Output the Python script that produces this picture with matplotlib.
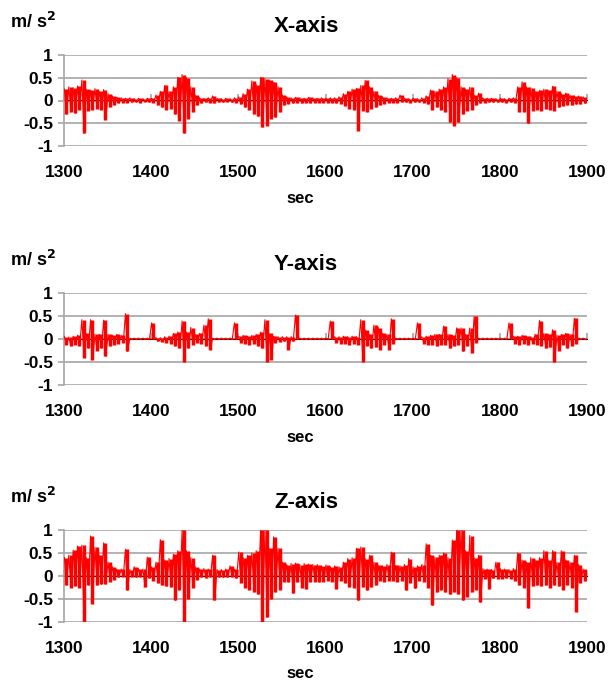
import numpy as np
import matplotlib
matplotlib.use('Agg')
import matplotlib.pyplot as plt
from matplotlib import font_manager
from matplotlib.ticker import NullFormatter

# 5 second bins from 1300 to 1900 sec, upper and lower excursion read per bin
START = 1300
BIN = 5

x_hi = [0.25, 0.3, 0.28, 0.32, 0.45, 0.25, 0.22, 0.26, 0.2, 0.24, 0.15, 0.1,
        0.07, 0.06, 0.05, 0.06, 0.04, 0.05, 0.04, 0.05, 0.05, 0.12, 0.2, 0.33,
        0.2, 0.3, 0.51, 0.57, 0.5, 0.3, 0.12, 0.06, 0.05, 0.06, 0.1, 0.05,
        0.04, 0.05, 0.04, 0.06, 0.08, 0.15, 0.25, 0.43, 0.35, 0.51, 0.48, 0.45,
        0.4, 0.3, 0.12, 0.08, 0.06, 0.07, 0.06, 0.05, 0.07, 0.06, 0.05, 0.06,
        0.05, 0.06, 0.06, 0.08, 0.15, 0.2, 0.25, 0.27, 0.33, 0.44, 0.3, 0.2,
        0.12, 0.08, 0.06, 0.05, 0.06, 0.12, 0.05, 0.04, 0.05, 0.04, 0.06, 0.1,
        0.23, 0.2, 0.25, 0.3, 0.48, 0.57, 0.5, 0.3, 0.25, 0.29, 0.12, 0.16,
        0.06, 0.05, 0.05, 0.04, 0.05, 0.04, 0.05, 0.06, 0.3, 0.41, 0.3, 0.28,
        0.2, 0.22, 0.25, 0.22, 0.31, 0.2, 0.15, 0.16, 0.12, 0.1, 0.1, 0.08]
x_lo = [-0.3, -0.25, -0.28, -0.2, -0.72, -0.22, -0.2, -0.18, -0.2, -0.42, -0.14, -0.1,
        -0.06, -0.05, -0.05, -0.04, -0.04, -0.05, -0.03, -0.04, -0.05, -0.1, -0.15, -0.2,
        -0.18, -0.3, -0.44, -0.72, -0.4, -0.25, -0.1, -0.06, -0.04, -0.05, -0.06, -0.04,
        -0.04, -0.03, -0.04, -0.05, -0.08, -0.15, -0.2, -0.3, -0.35, -0.59, -0.55, -0.4,
        -0.37, -0.25, -0.1, -0.07, -0.06, -0.05, -0.06, -0.05, -0.06, -0.05, -0.05, -0.05,
        -0.05, -0.05, -0.06, -0.07, -0.12, -0.18, -0.2, -0.66, -0.22, -0.25, -0.18, -0.15,
        -0.1, -0.07, -0.05, -0.05, -0.05, -0.04, -0.04, -0.05, -0.04, -0.04, -0.05, -0.08,
        -0.2, -0.15, -0.2, -0.25, -0.48, -0.55, -0.48, -0.3, -0.22, -0.2, -0.1, -0.06,
        -0.05, -0.04, -0.04, -0.04, -0.04, -0.05, -0.04, -0.05, -0.25, -0.25, -0.5, -0.22,
        -0.2, -0.22, -0.18, -0.2, -0.22, -0.15, -0.12, -0.1, -0.1, -0.08, -0.08, -0.06]

y_hi = [0.05, 0.04, 0.06, 0.08, 0.42, 0.12, 0.42, 0.1, 0.1, 0.41, 0.1, 0.08,
        0.1, 0.08, 0.55, 0.02, 0.02, 0.02, 0.02, 0.02, 0.35, 0.03, 0.03, 0.05,
        0.06, 0.12, 0.15, 0.39, 0.15, 0.25, 0.1, 0.12, 0.3, 0.44, 0.02, 0.02,
        0.02, 0.02, 0.02, 0.35, 0.06, 0.08, 0.06, 0.08, 0.1, 0.15, 0.42, 0.12,
        0.06, 0.05, 0.05, 0.05, 0.05, 0.52, 0.02, 0.02, 0.02, 0.02, 0.02, 0.02,
        0.02, 0.39, 0.05, 0.05, 0.06, 0.05, 0.06, 0.05, 0.42, 0.2, 0.1, 0.3,
        0.25, 0.12, 0.1, 0.44, 0.02, 0.02, 0.02, 0.02, 0.02, 0.35, 0.05, 0.06,
        0.08, 0.1, 0.1, 0.28, 0.1, 0.08, 0.24, 0.24, 0.1, 0.24, 0.49, 0.02,
        0.02, 0.02, 0.02, 0.02, 0.02, 0.02, 0.35, 0.06, 0.06, 0.08, 0.06, 0.05,
        0.1, 0.4, 0.12, 0.1, 0.2, 0.08, 0.1, 0.12, 0.1, 0.45, 0.02, 0.02]
y_lo = [-0.12, -0.15, -0.12, -0.15, -0.41, -0.2, -0.45, -0.25, -0.2, -0.38, -0.15, -0.12,
        -0.1, -0.08, -0.27, -0.01, -0.01, -0.01, -0.01, -0.01, -0.01, -0.05, -0.06, -0.08,
        -0.1, -0.15, -0.2, -0.5, -0.2, -0.12, -0.08, -0.1, -0.15, -0.23, -0.01, -0.01,
        -0.01, -0.01, -0.01, -0.01, -0.08, -0.1, -0.12, -0.1, -0.15, -0.2, -0.5, -0.45,
        -0.08, -0.06, -0.05, -0.23, -0.05, -0.01, -0.01, -0.01, -0.01, -0.01, -0.01, -0.01,
        -0.01, -0.01, -0.08, -0.1, -0.1, -0.12, -0.1, -0.12, -0.49, -0.15, -0.2, -0.18,
        -0.23, -0.12, -0.23, -0.1, -0.01, -0.01, -0.01, -0.01, -0.01, -0.01, -0.1, -0.12,
        -0.12, -0.15, -0.12, -0.12, -0.2, -0.15, -0.12, -0.27, -0.15, -0.3, -0.08, -0.01,
        -0.01, -0.01, -0.01, -0.01, -0.01, -0.01, -0.01, -0.1, -0.12, -0.1, -0.12, -0.1,
        -0.12, -0.15, -0.2, -0.18, -0.5, -0.25, -0.12, -0.2, -0.15, -0.1, -0.01, -0.01]

z_hi = [0.4, 0.45, 0.56, 0.65, 0.67, 0.4, 0.87, 0.62, 0.45, 0.72, 0.3, 0.2,
        0.15, 0.15, 0.58, 0.14, 0.2, 0.16, 0.15, 0.41, 0.2, 0.3, 0.79, 0.35,
        0.38, 0.47, 0.55, 1.0, 0.55, 0.4, 0.2, 0.15, 0.16, 0.15, 0.45, 0.14,
        0.14, 0.15, 0.22, 0.15, 0.52, 0.4, 0.45, 0.5, 0.55, 1.0, 1.0, 0.6,
        0.85, 0.6, 0.3, 0.25, 0.27, 0.28, 0.25, 0.27, 0.26, 0.25, 0.25, 0.22,
        0.24, 0.2, 0.22, 0.2, 0.3, 0.38, 0.4, 0.6, 0.63, 0.38, 0.45, 0.3,
        0.23, 0.22, 0.25, 0.52, 0.23, 0.22, 0.25, 0.38, 0.2, 0.22, 0.25, 0.7,
        0.45, 0.41, 0.45, 0.5, 0.4, 0.78, 1.0, 1.0, 0.55, 0.88, 0.4, 0.45,
        0.16, 0.15, 0.14, 0.3, 0.16, 0.15, 0.14, 0.16, 0.5, 0.35, 0.3, 0.4,
        0.35, 0.4, 0.55, 0.35, 0.55, 0.3, 0.55, 0.35, 0.3, 0.45, 0.25, 0.15]
z_lo = [-0.2, -0.25, -0.22, -0.25, -1.0, -0.2, -0.6, -0.2, -0.18, -0.18, -0.12, -0.08,
        -0.03, -0.02, -0.31, -0.02, -0.03, -0.02, -0.24, -0.05, -0.1, -0.15, -0.2, -0.22,
        -0.24, -0.53, -0.3, -1.0, -0.5, -0.25, -0.08, -0.03, -0.04, -0.02, -0.53, -0.03,
        -0.03, -0.03, -0.02, -0.05, -0.15, -0.25, -0.3, -0.35, -0.4, -1.0, -0.9, -0.5,
        -0.35, -0.3, -0.12, -0.13, -0.38, -0.13, -0.25, -0.28, -0.13, -0.12, -0.13, -0.12,
        -0.1, -0.12, -0.28, -0.1, -0.15, -0.24, -0.25, -0.53, -0.24, -0.31, -0.24, -0.2,
        -0.1, -0.12, -0.1, -0.1, -0.12, -0.1, -0.31, -0.15, -0.27, -0.1, -0.12, -0.25,
        -0.64, -0.35, -0.3, -0.35, -0.4, -0.35, -0.4, -0.53, -0.45, -0.35, -0.3, -0.57,
        -0.06, -0.28, -0.05, -0.06, -0.06, -0.05, -0.06, -0.1, -0.2, -0.25, -0.7, -0.22,
        -0.2, -0.22, -0.2, -0.25, -0.2, -0.22, -0.3, -0.2, -0.25, -0.78, -0.15, -0.1]

titles = ["X-axis", "Y-axis", "Z-axis"]
x_ticks = [1300, 1400, 1500, 1600, 1700, 1800, 1900]
y_ticks = [1, 0.5, 0, -0.5, -1]
y_ticklabels = ["1", "0.5", "0", "-0.5", "-1"]

try:
    font_manager.findfont('Liberation Sans Narrow', fallback_to_default=False)
    FONT = 'Liberation Sans Narrow'
except ValueError:
    FONT = 'Liberation Sans'
plt.rcParams['font.family'] = FONT
plt.rcParams['font.weight'] = 'bold'

GRID = '#a6a6a6'
RED = '#ff0000'
W, H = 611, 688


def zigzag(hi, lo):
    t0 = START + BIN * np.arange(len(hi))
    t = np.empty(2 * len(hi))
    v = np.empty(2 * len(hi))
    t[0::2] = t0 + 0.5
    t[1::2] = t0 + 3.0
    v[0::2] = hi
    v[1::2] = lo
    return t, v


fig = plt.figure(figsize=(W / 100, H / 100), dpi=100)

# axes box in pixels: y=1 line and y=-1 line
boxes = [(55, 146), (293, 385), (530, 622)]
series = [(x_hi, x_lo), (y_hi, y_lo), (z_hi, z_lo)]

for (top, bot), (hi, lo), title in zip(boxes, series, titles):
    ax = fig.add_axes([64 / W, 1 - bot / H, 523 / W, (bot - top) / H])
    t, v = zigzag(hi, lo)
    centres = START + BIN * np.arange(len(hi)) + 2.5
    ax.vlines(centres, lo, hi, color=RED, lw=2.5, zorder=3)
    ax.plot(t, v, color=RED, lw=0.8, zorder=3)

    ax.set_xlim(1300, 1900)
    ax.set_ylim(-1, 1)
    ax.set_yticks(y_ticks)
    ax.set_yticklabels(y_ticklabels)
    ax.set_xticks(x_ticks)
    ax.set_xticklabels([str(x) for x in x_ticks])
    ax.grid(axis='y', color=GRID, lw=1.2)
    ax.set_axisbelow(True)
    for s in ['top', 'right', 'bottom']:
        ax.spines[s].set_visible(False)
    ax.spines['left'].set_color(GRID)
    ax.spines['left'].set_linewidth(1.2)
    ax.tick_params(axis='y', colors=GRID, length=4, width=1.2, labelsize=12.5,
                   labelcolor='black', pad=4)
    ax.tick_params(axis='x', length=0, labelsize=12.5, pad=14)
    for lab in ax.get_xticklabels() + ax.get_yticklabels():
        lab.set_fontweight('bold')

    # horizontal axis crosses at zero with tick marks there
    sec = ax.secondary_xaxis(0.5)
    sec.set_xticks(x_ticks)
    sec.xaxis.set_major_formatter(NullFormatter())
    sec.tick_params(axis='x', direction='out', length=4, width=1.2,
                    colors=GRID)
    sec.spines['bottom'].set_color(GRID)
    sec.spines['bottom'].set_linewidth(1.2)
    sec.set_zorder(1)

    fig.text(306 / W, 1 - (top - 28) / H, title, ha='center', va='center',
             fontsize=16, fontweight='bold')
    fig.text(10 / W, 1 - (top - 33) / H, "m/ s$^{2}$", ha='left', va='center',
             fontsize=13, fontweight='bold')
    fig.text(300 / W, 1 - (bot + 52) / H, "sec", ha='center', va='center',
             fontsize=12, fontweight='bold')

fig.savefig('out.png', dpi=100)
